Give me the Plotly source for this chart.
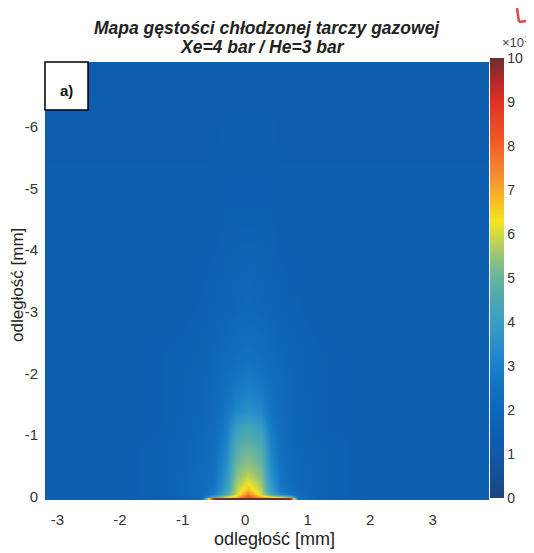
import plotly.graph_objects as go

# ---- data (density, colourbar units) ----
x_mm = [-3.2, -2.0, -1.2, -0.7, -0.5, -0.3, -0.15, 0.05, 0.25, 0.4, 0.55, 0.72, 0.85, 1.2, 2.0, 3.9]
y_mm = [0.05, 0.025, 0.0, -0.04, -0.1, -0.2, -0.35, -0.55, -0.8, -1.1, -1.4, -1.8, -2.3, -3.0, -4.5, -7.05]
density = [
    [1.5, 1.5, 1.6, 2.0, 9.8, 10, 10, 10, 10, 10, 10, 9.8, 2.5, 1.7, 1.5, 1.5],
    [1.5, 1.5, 1.6, 2.0, 9.6, 10, 10, 10, 10, 10, 10, 9.6, 2.5, 1.7, 1.5, 1.5],
    [1.5, 1.5, 1.6, 2.0, 4.5, 6.0, 6.8, 8.3, 7.0, 6.5, 6.0, 5.0, 2.3, 1.7, 1.5, 1.5],
    [1.5, 1.5, 1.7, 2.1, 3.0, 4.4, 5.9, 7.6, 5.9, 4.4, 3.2, 2.7, 2.0, 1.7, 1.5, 1.5],
    [1.5, 1.5, 1.7, 2.1, 2.8, 4.1, 5.8, 6.9, 5.8, 4.1, 2.9, 2.4, 2.0, 1.7, 1.5, 1.5],
    [1.5, 1.5, 1.7, 2.1, 2.6, 3.9, 5.6, 6.3, 5.6, 3.9, 2.7, 2.2, 1.9, 1.7, 1.5, 1.5],
    [1.5, 1.5, 1.7, 2.1, 2.5, 3.6, 5.3, 5.8, 5.3, 3.6, 2.6, 2.1, 1.9, 1.7, 1.5, 1.5],
    [1.5, 1.5, 1.7, 2.0, 2.4, 3.4, 5.0, 5.4, 5.0, 3.4, 2.5, 2.1, 1.9, 1.7, 1.5, 1.5],
    [1.5, 1.5, 1.7, 2.0, 2.3, 3.2, 4.6, 5.0, 4.6, 3.2, 2.4, 2.0, 1.8, 1.7, 1.5, 1.5],
    [1.5, 1.5, 1.6, 1.9, 2.2, 2.9, 4.0, 4.4, 4.0, 2.9, 2.3, 2.0, 1.8, 1.6, 1.5, 1.5],
    [1.5, 1.5, 1.6, 1.8, 2.1, 2.6, 3.2, 3.5, 3.2, 2.6, 2.2, 1.9, 1.8, 1.6, 1.5, 1.5],
    [1.5, 1.5, 1.6, 1.8, 2.0, 2.4, 2.7, 2.9, 2.7, 2.4, 2.1, 1.9, 1.7, 1.6, 1.5, 1.5],
    [1.5, 1.5, 1.6, 1.7, 1.9, 2.1, 2.3, 2.4, 2.3, 2.1, 1.9, 1.8, 1.7, 1.6, 1.5, 1.5],
    [1.5, 1.5, 1.5, 1.6, 1.7, 1.8, 1.9, 2.0, 1.9, 1.8, 1.7, 1.6, 1.6, 1.5, 1.5, 1.5],
    [1.5, 1.5, 1.5, 1.5, 1.5, 1.6, 1.6, 1.6, 1.6, 1.6, 1.5, 1.5, 1.5, 1.5, 1.5, 1.5],
    [1.4, 1.4, 1.4, 1.4, 1.4, 1.4, 1.4, 1.4, 1.4, 1.4, 1.4, 1.4, 1.4, 1.4, 1.4, 1.4],
]
x_ticks = [-3, -2, -1, 0, 1, 2, 3]
y_ticks = [0, -1, -2, -3, -4, -5, -6]
cbar_ticks = [0, 1, 2, 3, 4, 5, 6, 7, 8, 9, 10]
title_lines = ["Mapa gęstości chłodzonej tarczy gazowej", "Xe=4 bar / He=3 bar"]
axis_label = "odległość [mm]"

colorscale = [
    [0.00, "#1d4480"], [0.05, "#164f96"], [0.10, "#1158a6"], [0.15, "#0d5fb0"],
    [0.20, "#0f68b8"], [0.25, "#1272c0"], [0.30, "#1a80c8"], [0.35, "#2a90c8"],
    [0.40, "#3a9ec0"], [0.45, "#4ea8b0"], [0.50, "#68b4a0"], [0.55, "#98c478"],
    [0.60, "#d4dc3c"], [0.63, "#f5e420"], [0.67, "#f8c020"], [0.71, "#f5a030"],
    [0.80, "#f06028"], [0.90, "#e03025"], [0.95, "#b02828"], [1.00, "#6a3030"],
]

FONT = "Liberation Sans, Arial, sans-serif"
# the page body has an 8px margin; work in page pixels and shift by OFF
OFF = 8
W, H = 534 - OFF, 553 - OFF
PLOT_L, PLOT_R, PLOT_T, PLOT_B = 45, 489, 62, 500  # page pixels
L, T = PLOT_L - OFF, PLOT_T - OFF
R, B = W - (PLOT_R - OFF), H - (PLOT_B - OFF)
PW, PH = PLOT_R - PLOT_L, PLOT_B - PLOT_T


def px_x(px):
    return (px - PLOT_L) / PW


def px_y(py):
    return 1 - (py - PLOT_T) / PH


fig = go.Figure(go.Heatmap(
    x=x_mm, y=y_mm, z=density, zmin=0, zmax=10, zsmooth="best",
    colorscale=colorscale,
    colorbar=dict(
        x=px_x(490), xanchor="left", xpad=0, ypad=0,
        y=px_y(278), yanchor="middle", len=440, lenmode="pixels",
        thickness=14, outlinewidth=0, ticks="",
        tickvals=cbar_ticks, ticktext=[str(v) for v in cbar_ticks],
        tickfont=dict(family=FONT, size=14, color="#333"),
    ),
))

fig.update_layout(
    width=W, height=H,
    margin=dict(l=L, r=R, t=T, b=B, autoexpand=False),
    paper_bgcolor="white", plot_bgcolor="white",
    xaxis=dict(
        range=[-3.2, 3.9], tickvals=x_ticks, ticktext=[str(v) for v in x_ticks],
        showgrid=False, zeroline=False, showline=False, ticks="", automargin=False,
        tickfont=dict(family=FONT, size=15, color="#333"),
        ticklabelstandoff=9,
    ),
    yaxis=dict(
        range=[0.05, -7.05], tickvals=y_ticks, ticktext=[str(v) for v in y_ticks],
        showgrid=False, zeroline=False, showline=False, ticks="", automargin=False,
        tickfont=dict(family=FONT, size=15, color="#333"),
        ticklabelstandoff=6,
    ),
)

# title (two lines, tight line spacing as in the reference)
fig.add_annotation(text="<b><i>" + title_lines[0] + "</i></b>", xref="paper", yref="paper",
                   x=px_x(267), y=px_y(28), xanchor="center", yanchor="middle",
                   showarrow=False, font=dict(family=FONT, size=17.5, color="#222"))
fig.add_annotation(text="<b><i>" + title_lines[1] + "</i></b>", xref="paper", yref="paper",
                   x=px_x(262), y=px_y(47), xanchor="center", yanchor="middle",
                   showarrow=False, font=dict(family=FONT, size=17.5, color="#222"))

# axis titles
fig.add_annotation(text=axis_label, xref="paper", yref="paper",
                   x=px_x(274), y=px_y(539), xanchor="center", yanchor="middle",
                   showarrow=False, font=dict(family=FONT, size=18, color="#222"))
fig.add_annotation(text=axis_label, xref="paper", yref="paper", textangle=-90,
                   x=px_x(17), y=px_y(285), xanchor="center", yanchor="middle",
                   showarrow=False, font=dict(family=FONT, size=17, color="#222"))

# "a)" label box
fig.add_shape(type="rect", xref="paper", yref="paper",
              x0=px_x(45), x1=px_x(88), y0=px_y(110), y1=px_y(62),
              fillcolor="white", line=dict(color="black", width=1.5))
fig.add_annotation(text="<b>a)</b>", xref="paper", yref="paper",
                   x=px_x(66), y=px_y(90), xanchor="center", yanchor="middle", showarrow=False,
                   font=dict(family=FONT, size=15, color="#111"))

# colourbar multiplier (cut at the edge in the scan)
fig.add_annotation(text="×10<sup>19</sup>", xref="paper", yref="paper",
                   x=px_x(500), y=px_y(42), xanchor="left", yanchor="middle",
                   showarrow=False, font=dict(family=FONT, size=13, color="#444"))

# red hand mark at the top right corner of the scan
fig.add_shape(type="line", xref="paper", yref="paper",
              x0=px_x(517), y0=px_y(8), x1=px_x(519), y1=px_y(22),
              line=dict(color="#e04848", width=2.5))
fig.add_shape(type="line", xref="paper", yref="paper",
              x0=px_x(519), y0=px_y(22), x1=px_x(534), y1=px_y(20),
              line=dict(color="#e04848", width=2.5))

fig.write_html("out.html")
